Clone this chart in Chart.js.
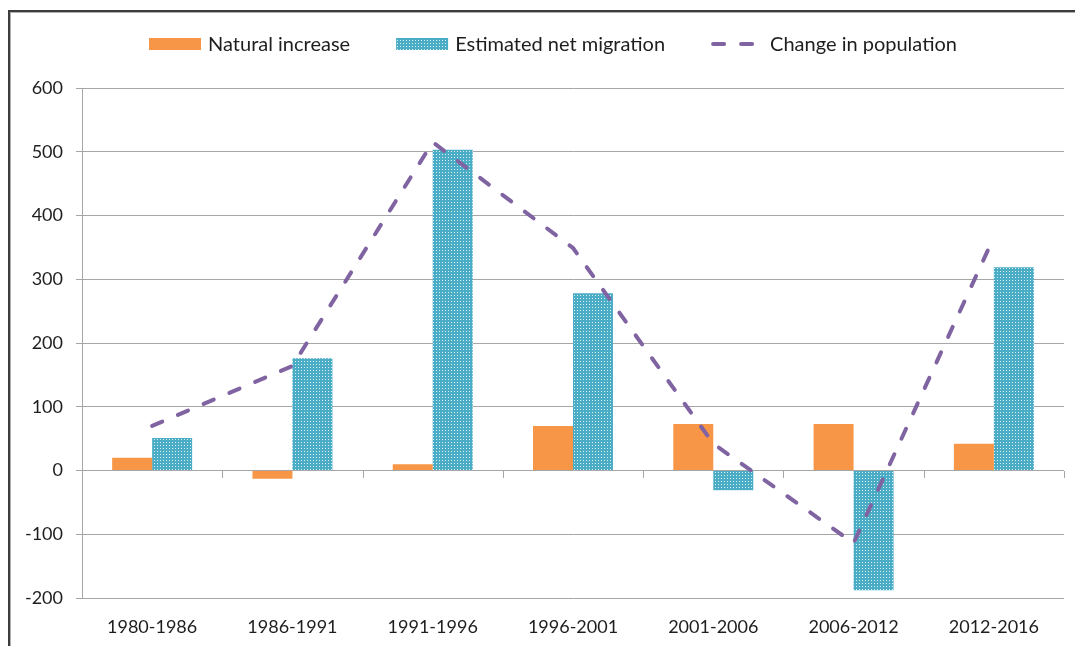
<!DOCTYPE html>
<html>
<head>
<meta charset="utf-8">
<title>Population change components</title>
<script src="https://cdn.jsdelivr.net/npm/chart.js@4.4.1/dist/chart.umd.min.js"></script>
<style>
  html, body { margin: 0; padding: 0; background: #fff; }
  #wrap { position: relative; width: 1075px; height: 646px; overflow: hidden; }
  #frame {
    position: absolute; left: 8px; top: 10px; width: 1200px; height: 800px;
    border-left: 2px solid #3c3c3c; border-top: 2px solid #3c3c3c;
    box-shadow: inset 1px 1px 0 #b0b0b0;
  }
  canvas { position: absolute; left: 0; top: 0; }
</style>
</head>
<body>
<div id="wrap">
  <div id="frame"></div>
  <canvas id="chart" width="1075" height="646"></canvas>
</div>
<script>
// data
const periods = ['1980-1986', '1986-1991', '1991-1996', '1996-2001', '2001-2006', '2006-2012', '2012-2016'];
const naturalIncrease = [20, -13, 10, 70, 73, 73, 42];
const netMigration = [51, 176, 503, 278, -31, -188, 319];
const populationChange = [70, 164, 515, 349, 42, -114, 366];
const yTicks = [-200, -100, 0, 100, 200, 300, 400, 500, 600];

const FONT = 'Lato, "Open Sans", sans-serif';
const TEXT = '#1e1e1e';
const GRID = '#a6a6a6';
const ORANGE = '#f79646';
const TEAL = '#4bacc6';
const PURPLE = '#8064a2';

const canvas = document.getElementById('chart');
const ctx = canvas.getContext('2d');

// dotted fill used for the migration bars
function dotPattern() {
  const c = document.createElement('canvas');
  c.width = 3; c.height = 3;
  const g = c.getContext('2d');
  g.fillStyle = TEAL;
  g.fillRect(0, 0, 3, 3);
  g.fillStyle = 'rgba(255,255,255,0.8)';
  g.fillRect(1, 1, 1, 1);
  return ctx.createPattern(c, 'repeat');
}
const tealDots = dotPattern();

// small tick marks on the zero line between categories
const zeroTicks = {
  id: 'zeroTicks',
  beforeDatasetsDraw(chart) {
    const { ctx, scales: { x, y } } = chart;
    const y0 = Math.round(y.getPixelForValue(0));
    const step = (x.right - x.left) / periods.length;
    ctx.save();
    ctx.strokeStyle = GRID;
    ctx.lineWidth = 1;
    for (let i = 1; i <= periods.length; i++) {
      const px = Math.round(x.left + i * step) + 0.5;
      ctx.beginPath();
      ctx.moveTo(px, y0);
      ctx.lineTo(px, y0 + 7);
      ctx.stroke();
    }
    ctx.restore();
  }
};

// legend drawn across the top, centred like the original
const topLegend = {
  id: 'topLegend',
  afterDraw(chart) {
    const { ctx } = chart;
    const swatchW = 52, swatchH = 12, textGap = 7, itemGap = 46, cy = 44;
    ctx.save();
    ctx.font = '20px ' + FONT;
    ctx.textBaseline = 'middle';
    const sets = chart.data.datasets;
    const widths = sets.map(ds => swatchW + textGap + ctx.measureText(ds.label).width);
    const total = widths.reduce((a, b) => a + b, 0) + itemGap * (sets.length - 1);
    let x = 553 - total / 2;
    sets.forEach((ds, i) => {
      if (ds.type === 'line') {
        ctx.strokeStyle = ds.borderColor;
        ctx.lineWidth = ds.borderWidth;
        ctx.lineCap = 'round';
        ctx.setLineDash(ds.borderDash);
        ctx.beginPath();
        ctx.moveTo(x + 2, cy);
        ctx.lineTo(x + 46, cy);
        ctx.stroke();
        ctx.setLineDash([]);
      } else {
        ctx.fillStyle = ds.backgroundColor;
        ctx.fillRect(x, cy - swatchH / 2, swatchW, swatchH);
      }
      ctx.fillStyle = TEXT;
      ctx.fillText(ds.label, x + swatchW + textGap, cy + 1);
      x += widths[i] + itemGap;
    });
    ctx.restore();
  }
};

new Chart(ctx, {
  data: {
    labels: periods,
    datasets: [
      {
        type: 'bar',
        label: 'Natural increase',
        data: naturalIncrease,
        backgroundColor: ORANGE,
        categoryPercentage: 0.57,
        barPercentage: 1,
        order: 1
      },
      {
        type: 'bar',
        label: 'Estimated net migration',
        data: netMigration,
        backgroundColor: tealDots,
        categoryPercentage: 0.57,
        barPercentage: 1,
        order: 1
      },
      {
        type: 'line',
        label: 'Change in population',
        data: populationChange,
        borderColor: PURPLE,
        borderWidth: 4,
        borderDash: [11, 17],
        borderCapStyle: 'round',
        pointRadius: 0,
        tension: 0,
        fill: false,
        order: 0
      }
    ]
  },
  options: {
    responsive: false,
    animation: false,
    layout: { padding: { top: 88, right: 11, left: 0, bottom: 0 } },
    plugins: {
      legend: { display: false },
      tooltip: { enabled: false }
    },
    scales: {
      x: {
        grid: { display: false, drawTicks: false },
        border: { display: false },
        ticks: { font: { family: FONT, size: 18 }, color: TEXT, padding: 18, maxRotation: 0 },
        afterFit: s => { s.height = 48; }
      },
      y: {
        min: -200,
        max: 600,
        afterBuildTicks: s => { s.ticks = yTicks.map(v => ({ value: v })); },
        ticks: { font: { family: FONT, size: 18 }, color: TEXT, padding: 13 },
        grid: { color: GRID, tickColor: GRID, tickLength: 6 },
        border: { color: GRID },
        afterFit: s => { s.width = 82; }
      }
    }
  },
  plugins: [zeroTicks, topLegend]
});
</script>
</body>
</html>
